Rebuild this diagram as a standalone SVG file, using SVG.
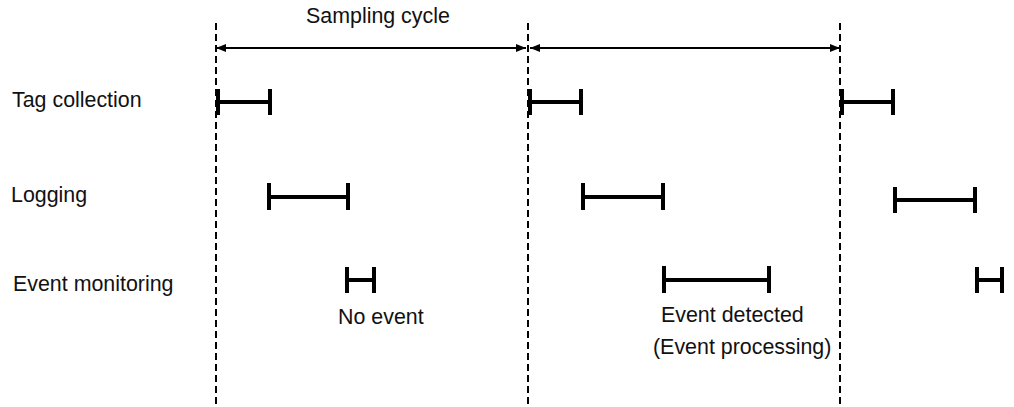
<svg xmlns="http://www.w3.org/2000/svg" width="1014" height="407" viewBox="0 0 1014 407">
<style>
text{font-family:"Liberation Sans",Arial,sans-serif;font-size:21.4px;fill:#111}
.dash{stroke:#000;stroke-width:2;stroke-dasharray:7 4;fill:none}
.bar{stroke:#000;stroke-width:4;fill:none}
.arr{stroke:#000;stroke-width:2;fill:none}
</style>
<defs>
<marker id="ah" viewBox="0 0 10 8" refX="10" refY="4" markerWidth="10" markerHeight="8" markerUnits="userSpaceOnUse" orient="auto-start-reverse">
<path d="M0,0 L10,4 L0,8 Z" fill="#000"/>
</marker>
</defs>
<rect width="1014" height="407" fill="#fff"/>
<g id="cycle-boundaries">
<line class="dash" x1="216" y1="23" x2="216" y2="407"/>
<line class="dash" x1="528" y1="23" x2="528" y2="407"/>
<line class="dash" x1="840" y1="23" x2="840" y2="407"/>
</g>
<g id="connectors">
<line class="arr" x1="216" y1="48" x2="526" y2="48" marker-start="url(#ah)" marker-end="url(#ah)"/>
<line class="arr" x1="530" y1="48" x2="840" y2="48" marker-start="url(#ah)" marker-end="url(#ah)"/>
</g>
<g id="label-sampling"><text x="306" y="23">Sampling cycle</text></g>
<g id="label-tag"><text x="12" y="107">Tag collection</text></g>
<g id="label-logging"><text x="11" y="202">Logging</text></g>
<g id="label-event"><text x="13" y="291">Event monitoring</text></g>
<g id="label-noevent"><text x="338" y="324">No event</text></g>
<g id="label-detected"><text x="661" y="322">Event detected</text></g>
<g id="label-processing"><text x="653" y="354">(Event processing)</text></g>
<g id="tag-1"><path class="bar" d="M218,89V115M218,102H270M270,89V115"/></g>
<g id="tag-2"><path class="bar" d="M530,89V115M530,102H581M581,89V115"/></g>
<g id="tag-3"><path class="bar" d="M842,89V115M842,102H893M893,89V115"/></g>
<g id="log-1"><path class="bar" d="M269,183V210M269,197H348M348,183V210"/></g>
<g id="log-2"><path class="bar" d="M583,183V210M583,197H663M663,183V210"/></g>
<g id="log-3"><path class="bar" d="M895,187V213M895,200H975M975,187V213"/></g>
<g id="event-1"><path class="bar" d="M347,267V293M347,280H374M374,267V293"/></g>
<g id="event-2"><path class="bar" d="M664,266V293M664,280H769M769,266V293"/></g>
<g id="event-3"><path class="bar" d="M977,267V293M977,280H1002M1002,267V293"/></g>
</svg>
